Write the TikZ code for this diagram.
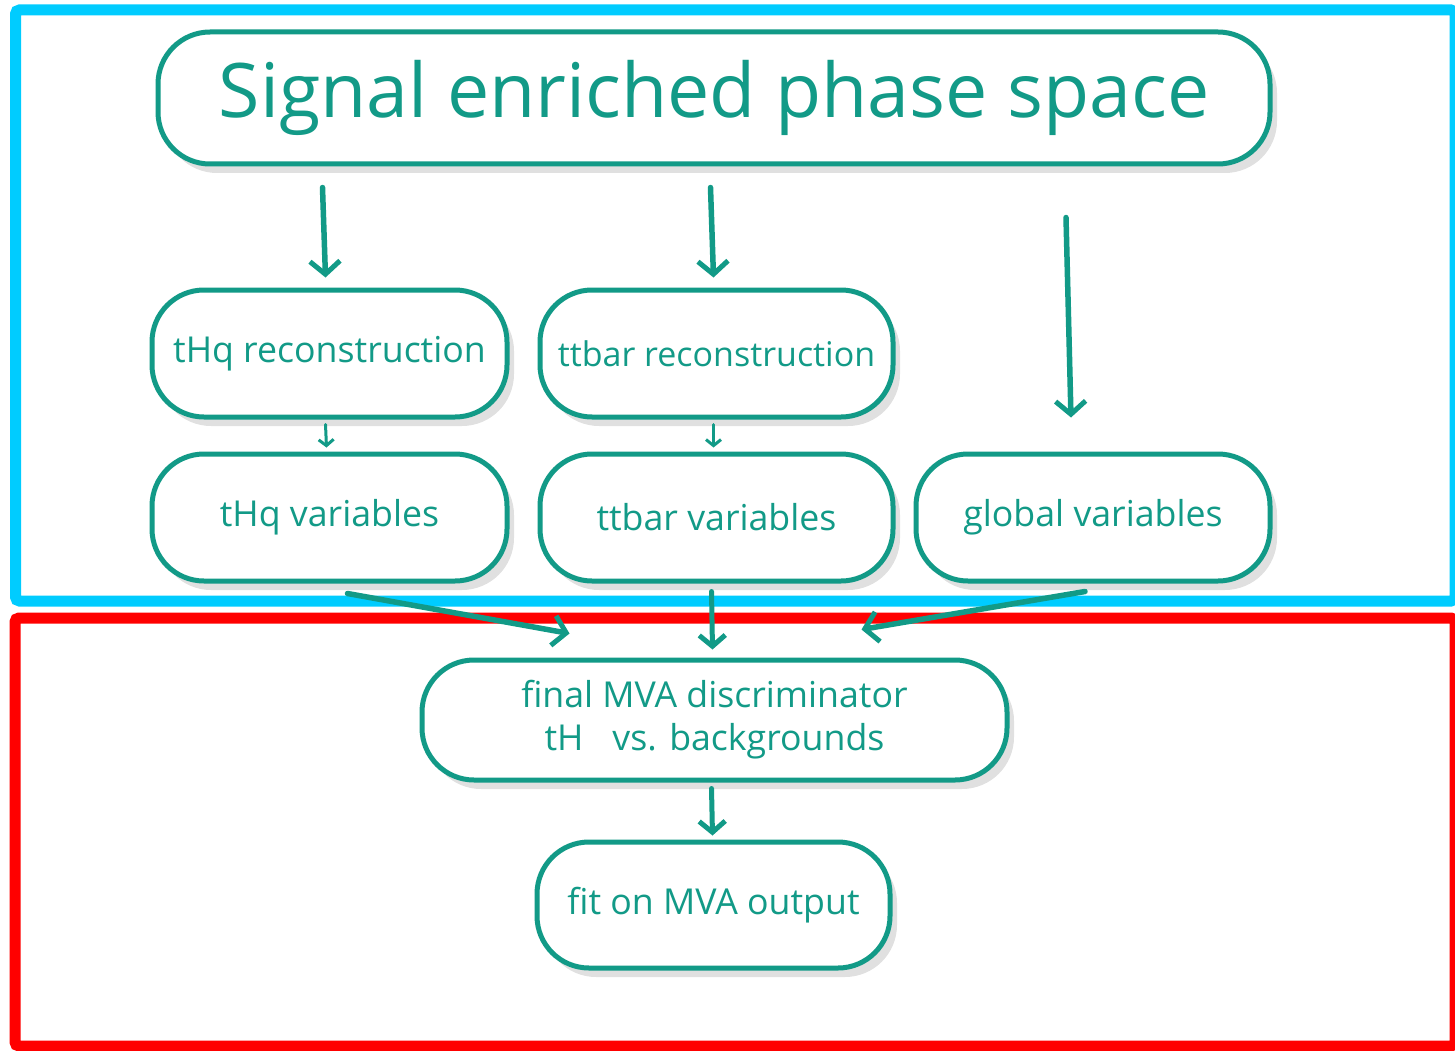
\documentclass[tikz,border=0pt]{standalone}
\usepackage{fontspec}
\setmainfont{Open Sans}
\usetikzlibrary{arrows.meta,shadows,calc}
\definecolor{tealc}{RGB}{18,154,135}
\definecolor{frameblue}{RGB}{0,204,255}
\definecolor{framered}{RGB}{255,0,0}
\begin{document}
\begin{tikzpicture}[x=1pt,y=-1pt,
  box/.style={draw=tealc, line width=5pt, fill=white, text=tealc,
    rounded corners=52pt, inner sep=0pt, align=center,
    font=\fontsize{35.7}{43}\selectfont,
    drop shadow={shadow xshift=7pt, shadow yshift=-9pt, opacity=0.12, fill=black}},
  chalk/.style={draw=tealc, line width=5.5pt, line cap=round,
    -{Straight Barb[length=13pt,width=30pt,line width=5pt]}},
  chalkmid/.style={draw=tealc, line width=5pt, line cap=round,
    -{Straight Barb[length=11pt,width=26pt,line width=5pt]}},
  chalksmall/.style={draw=tealc, line width=3pt, line cap=round,
    -{Straight Barb[length=6pt,width=15pt,line width=3pt]}},
  frame/.style={line width=11pt, rounded corners=4pt}
]
\useasboundingbox (0,0) rectangle (1455,1051);
\fill[white] (0,0) rectangle (1455,1051);

% frames
\draw[frame, frameblue] (15.5,10) rectangle (1455,601);
\draw[frame, framered] (15,618) rectangle (1455,1046);

% nodes
\node[box, minimum width=1112pt, minimum height=132pt, font=\fontsize{75.3}{90}\selectfont]
  (sig) at (714,98) {Signal enriched phase space};
\node[box, minimum width=355pt, minimum height=127pt] (thqr) at (329.5,353.5) {tHq reconstruction};
\node[box, minimum width=353pt, minimum height=127pt, font=\fontsize{34}{40}\selectfont] (ttr) at (716.5,353.5) {ttbar reconstruction};
\node[box, minimum width=355pt, minimum height=127pt] (thqv) at (329.5,517.5) {tHq variables};
\node[box, minimum width=353pt, minimum height=127pt] (ttv) at (716.5,517.5) {ttbar variables};
\node[box, minimum width=354pt, minimum height=127pt] (glv) at (1093,517.5) {global variables};
\node[box, minimum width=585pt, minimum height=120pt] (mva) at (714.5,720)
  {final MVA discriminator\\tH\hspace{29pt}vs. backgrounds};
\node[box, minimum width=353pt, minimum height=126pt] (fit) at (713.5,905) {fit on MVA output};

% connectors
\draw[chalk] ($(sig.south -| thqr.north)+(-7,21)$) -- ($(thqr.north)+(-4,-10)$);
\draw[chalk] ($(sig.south -| ttr.north)+(-6,21)$) -- ($(ttr.north)+(-3,-10)$);
\draw[chalk] ($(sig.south -| glv.north)+(-27,51)$) -- ($(glv.north)+(-22,-34)$);
\draw[chalksmall] ($(thqr.south)+(-4,5)$) -- ($(thqv.north)+(-3,-4)$);
\draw[chalksmall] ($(ttr.south)+(-3,5)$) -- ($(ttv.north)+(-3,-4)$);
\draw[chalk] ($(thqv.south)+(18,10)$) -- ($(mva.north west)+(150,-24)$);
\draw[chalkmid] ($(ttv.south)+(-5,8)$) -- ($(mva.north)+(-2,-8)$);
\draw[chalk] ($(glv.south)+(-8,8)$) -- ($(mva.north east)+(-148,-28)$);
\draw[chalkmid] ($(mva.south)+(-3,6)$) -- ($(fit.north)+(-1,-4)$);
\end{tikzpicture}
\end{document}
